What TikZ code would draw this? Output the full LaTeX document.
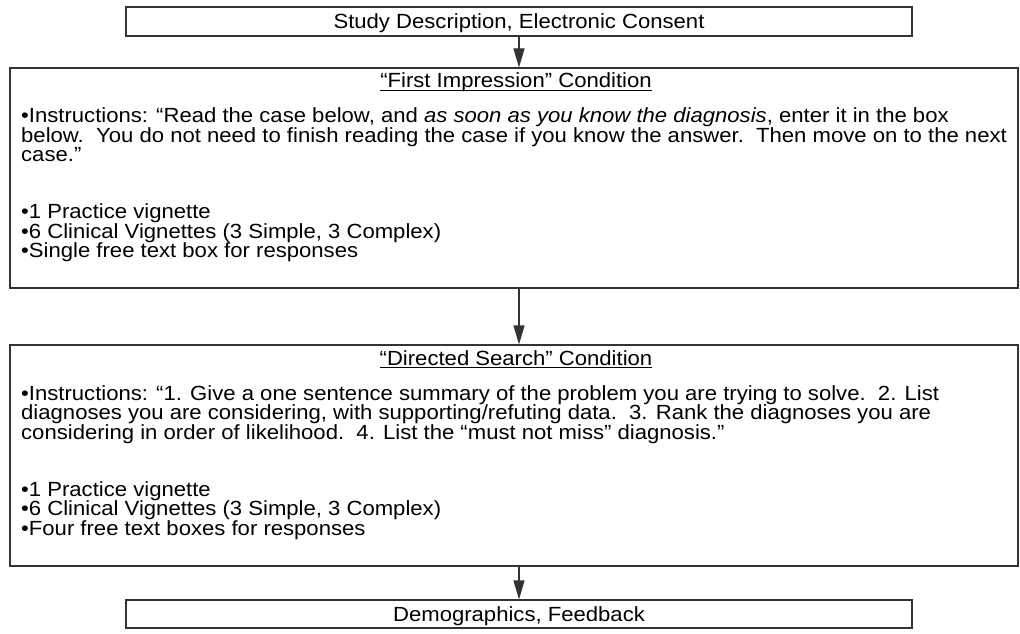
\documentclass[tikz,border=0pt]{standalone}
\usepackage{fontspec}
\setmainfont{Liberation Sans}[FakeStretch=1.078]
\usetikzlibrary{arrows.meta}
\newcommand{\myul}[1]{{\setbox0=\hbox{#1}\rlap{\rule[-3pt]{\wd0}{0.9pt}}\box0}}
\begin{document}
\begin{tikzpicture}[x=1pt,y=1pt,
  box/.style={draw=black!80, line width=1.2pt, inner sep=0pt},
  txt/.style={inner sep=0pt, font=\fontsize{20.5pt}{19.5pt}\selectfont, text=black},
  arr/.style={draw=black!80, line width=1.2pt, -{Triangle[length=19pt,width=11pt]}}]
\useasboundingbox (0,0) rectangle (1020,633);
% boxes
\node[box, minimum width=786pt, minimum height=29pt] (b1) at (519,611.5) {};
\node[box, minimum width=1008pt, minimum height=220pt] (b2) at (514,455) {};
\node[box, minimum width=1008pt, minimum height=221pt] (b3) at (514,177.5) {};
\node[box, minimum width=786pt, minimum height=28pt] (b4) at (519,19) {};
% texts
\node[txt, anchor=base] (t1) at (519,604.3) {Study Description, Electronic Consent};
\node[txt, anchor=base] (t2) at (516,545) {\myul{“First Impression” Condition}};
\node[txt, anchor=base west] (t2a) at (21,510) {•Instructions: “Read the case below, and \textit{as soon as you know the diagnosis}, enter it in the box};
\node[txt, anchor=base west] (t2b) at (21,490.5) {below.\ \ You do not need to finish reading the case if you know the answer.\ \ Then move on to the next};
\node[txt, anchor=base west] (t2c) at (21,471) {case.”};
\node[txt, anchor=base west] (t2d) at (21,414) {•1 Practice vignette};
\node[txt, anchor=base west] (t2e) at (21,394.5) {•6 Clinical Vignettes (3 Simple, 3 Complex)};
\node[txt, anchor=base west] (t2f) at (21,375) {•Single free text box for responses};
\node[txt, anchor=base] (t3) at (516,268) {\myul{“Directed Search” Condition}};
\node[txt, anchor=base west] (t3a) at (21,233) {•Instructions: “1. Give a one sentence summary of the problem you are trying to solve.\ \ 2. List};
\node[txt, anchor=base west] (t3b) at (21,213.5) {diagnoses you are considering, with supporting/refuting data.\ \ 3. Rank the diagnoses you are};
\node[txt, anchor=base west] (t3c) at (21,194) {considering in order of likelihood.\ \ 4. List the “must not miss” diagnosis.”};
\node[txt, anchor=base west] (t3d) at (21,137) {•1 Practice vignette};
\node[txt, anchor=base west] (t3e) at (21,117.5) {•6 Clinical Vignettes (3 Simple, 3 Complex)};
\node[txt, anchor=base west] (t3f) at (21,98) {•Four free text boxes for responses};
\node[txt, anchor=base] (t4) at (519,11.8) {Demographics, Feedback};
% arrows
\draw[arr] (b1.south) -- (b2.north -| b1.south);
\draw[arr] (b2.south -| b1.south) -- (b3.north -| b1.south);
\draw[arr] (b3.south -| b4.north) -- (b4.north);
\end{tikzpicture}
\end{document}
